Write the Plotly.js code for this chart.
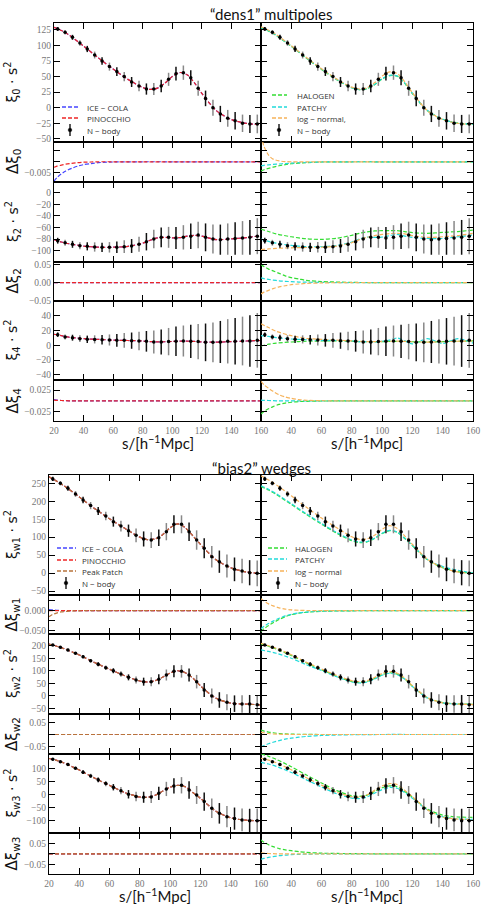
<!DOCTYPE html>
<html><head><meta charset="utf-8">
<script src="https://cdn.plot.ly/plotly-3.0.1.min.js"></script>
<style>html,body{margin:0;padding:0;background:#fff}</style>
</head><body><div id="chart" style="width:481px;height:904px"></div>
<script>
// ---------------- DATA ----------------
const s_nbody = [22.5,27.5,32.5,37.5,42.5,47.5,52.5,57.5,62.5,67.5,72.5,77.5,82.5,87.5,92.5,97.5,102.5,107.5,112.5,117.5,122.5,127.5,132.5,137.5,142.5,147.5,152.5,157.5];
const s_model = [20,25,30,40,50,60,70,80,85,90,95,100,105,110,115,120,130,140,150,160];
const s_delta = [20,22,25,28,32,36,40,45,50,60,80,100,130,160];
const x_ticks = [20,40,60,80,100,120,140,160];

// "dens1" multipoles
const xi0_nbody = [126.4,121,113,104,94.3,84.6,75,66,58,50,41.3,35,30,30,35,45.6,54.6,56.3,48,31.2,15,0,-10,-17,-21,-25,-26,-26];
const xi0_err   = [3,3.5,4,4.5,5,5.5,6,6.5,7,7.5,8,8.5,9,9.5,10,10.5,11,11.5,12,12,12.5,13,13,13.5,14,14,14.5,15];
const xi2_nbody = [-82.8,-86.3,-89,-91.4,-92.5,-93.6,-94.2,-94.2,-94,-93,-91.9,-89,-84.5,-79.9,-77,-77,-78.2,-77,-75,-73,-77,-80,-81,-80,-79,-78,-77,-75];
const xi2_err   = [5,5,6,6,7,8,8,9,10,11,12,13,15,16,17,18,19,21,22,23,24,25,26,27,28,29,30,31];
const xi4_nbody = [14.4,11.2,10.3,9,8.1,8,7.6,7.2,6.7,6.7,6.3,5.8,5.4,4.5,4.5,5,5.4,5.8,5.4,5,4,4,4.5,5.4,5.4,5.8,5.8,6.7];
const xi4_err   = [3,3.5,4,4.5,5,5.5,6.5,7.5,8.5,10,11,12.5,14,15.5,17,18.5,20,21,22.5,24,25.5,27,28.5,30,31.5,33,35,37];

const xi0_icecola   = [129,124,117,99,80,62,45.5,32.5,29.5,31.5,39.5,50,56.5,53,40,23,-5,-19,-25,-27];
const xi0_pinocchio = [129,124,117,99,80,62,45.5,32.5,29.5,31.5,39.5,50,56.5,53,40,23,-5,-19,-25,-27];
const xi0_halogen   = [128,123,116,98.5,79.5,61.5,45,32,29,30.5,37,46,51.5,50.5,39,22.5,-5,-18.5,-24.5,-26.5];
const xi0_patchy    = [128.5,123.5,116.5,99,80,62,45.5,32,29,31,37.5,46.5,52,51,39.5,23,-4.5,-18.5,-25,-26.5];
const xi0_lognormal = [130,124.5,117.5,99.5,80.5,62.5,46,33,30,32,40,51,57.5,55,41.5,24,-5,-19,-25,-27];

const xi2_icecola   = [-81,-85,-88,-92,-94,-94,-92.5,-87,-82,-78,-77,-78,-77.5,-75,-73.5,-75,-81,-79.5,-77.5,-74];
const xi2_pinocchio = [-81,-85,-88,-92,-94,-94,-92.5,-87,-82,-78,-77,-78,-77.5,-75,-73.5,-75,-81,-79.5,-77.5,-74];
const xi2_halogen   = [-63,-67,-71,-76,-79.5,-80.5,-78.5,-73.5,-70,-67.5,-66,-65.5,-65.5,-65.5,-67,-69,-70,-68.5,-67,-64.5];
const xi2_patchy    = [-80,-84,-87,-91,-93,-93,-91,-85,-80,-76.5,-77,-76.5,-74,-72,-75,-77,-79,-79,-76,-73];
const xi2_lognormal = [-98,-97,-96,-95,-94.5,-94,-92,-86,-81,-77,-74,-72,-70.5,-70,-71,-74,-77,-76,-74,-70];

const xi4_icecola   = [15,13,11,9,8,7,6.5,5.8,5,4.7,4.8,5.2,5.6,5.6,5.2,4.5,4.2,5,5.8,6.5];
const xi4_pinocchio = [15,13,11,9,8,7,6.5,5.8,5,4.7,4.8,5.2,5.6,5.6,5.2,4.5,4.2,5,5.8,6.5];
const xi4_halogen   = [-1,1.5,3,4.5,5.5,5.8,5.8,5.5,5,4.8,4.8,5,5.3,5.4,5.2,4.8,4.5,5,5.5,6];
const xi4_patchy    = [13,12,10.5,8.5,7.5,6.8,6.5,6,5,5,4.5,5.5,7,10,6,2,9,2.5,9,3];
const xi4_lognormal = [29,24,19,13,9.5,8,7,6,5.5,5,5,5.2,5.5,5.6,5.3,4.8,4.3,4.8,5.5,6];

const d0_icecola   = [-0.0088,-0.0072,-0.0055,-0.0042,-0.003,-0.002,-0.0013,-0.0008,-0.0004,-0.0001,0,0,0,0];
const d0_pinocchio = [-0.0025,-0.002,-0.0015,-0.0011,-0.0007,-0.0004,-0.0002,-0.0001,0,0,0,0,0,0];
const d0_halogen   = [-0.0042,-0.0036,-0.003,-0.0024,-0.0018,-0.0013,-0.0009,-0.0006,-0.0004,-0.0001,0,0,0,0];
const d0_patchy    = [-0.0018,-0.0016,-0.0014,-0.0012,-0.001,-0.0008,-0.0006,-0.0004,-0.0003,-0.0001,0,0,0,0];
const d0_lognormal = [0.012,0.007,0.003,0.0012,0.0004,0.0001,0,0,0,0,0,0,0,0];

const d2_icecola   = [0,0,0,0,0,0,0,0,0,0,0,0,0,0];
const d2_pinocchio = [0,0,0,0,0,0,0,0,0,0,0,0,0,0];
const d2_halogen   = [0.05,0.045,0.038,0.033,0.026,0.019,0.014,0.01,0.006,0.003,0.0005,0,0,0];
const d2_patchy    = [0.013,0.011,0.009,0.007,0.005,0.0035,0.0025,0.0015,0.001,0.0003,0,0,0,0];
const d2_lognormal = [-0.032,-0.027,-0.022,-0.017,-0.012,-0.009,-0.006,-0.004,-0.0025,-0.001,0,0,0,0];

const d4_icecola   = [0.003,0.002,0.001,0.0005,0.0002,0,0,0,0,0,0,0,0,0];
const d4_pinocchio = [0.002,0.0015,0.001,0.0005,0.0002,0,0,0,0,0,0,0,0,0];
const d4_halogen   = [-0.03,-0.024,-0.018,-0.013,-0.008,-0.005,-0.003,-0.0015,-0.0008,-0.0002,0,0,0,0];
const d4_patchy    = [0.002,0.0015,0.001,0.0005,0.0002,0,0,0,0,0,0,0,0,0];
const d4_lognormal = [0.045,0.037,0.029,0.022,0.014,0.009,0.006,0.003,0.0015,0.0005,0,0,0,0];

// "bias2" wedges
const w1_nbody = [262,250,236,220.3,203.6,187.8,173,159,143.2,131,118,105,95,92,98.6,115.3,135.8,135.8,115,92,69,45.7,31.7,19.7,10.4,5.7,1,-0.8];
const w1_err   = [6,6,7,8,9,10,11,12,14,15,17,19,21,22,23,24,25,25,26,27,28,30,31,32,33,34,35,36];
const w2_nbody = [202.7,193.4,182.7,169.4,156,140,125.5,112,100,87,73.7,63,56.4,56.4,65.7,83,97.6,97.6,83,56.4,23,-0.8,-16.8,-26,-31.4,-32.7,-32.7,-35.4];
const w2_err   = [4,4,5,5,6,7,8,9,10,11,12,14,16,18,20,22,24,25,26,27,28,30,31,32,33,35,36,38];
const w3_nbody = [134,125,114,100,85,71,56,42,28,15,1.3,-7.6,-10,-8.9,5,21.5,33,35.4,17.7,-1.3,-26.6,-52,-71,-83.5,-91,-96,-98.7,-98.7];
const w3_err   = [4,4,5,6,7,8,9,10,12,14,16,18,21,23,25,27,29,31,33,34,35,37,39,40,42,43,45,46];

const w1_icecola   = [268,256,243,212,180,151,124.5,100,93,95,107,126,137,126,103.5,80,38,15,3.3,-1.5];
const w1_pinocchio = [268,256,243,212,180,151,124.5,100,93,95,107,126,137,126,103.5,80,38,15,3.3,-1.5];
const w1_peakpatch = [268,256,243,212,180,151,124.5,100,93,95,107,126,137,126,103.5,80,38,15,3.3,-1.5];
const w1_halogen   = [241,231,219,191,163,136,111,90,85,87,96,110,118,113,96,76,37,15,4,0];
const w1_patchy    = [243,233,221,193,165,138,113,92,86.5,88,97,111,119,114,97,77,38,18,8,0];
const w1_lognormal = [271,259,246,215,183,153,126,101,94,95,105,122,132,124,103,80,38,15,3,-1];

const w2_icecola   = [206,198,188,163,133,106,80,59,55,60,74,91,100,92,71,40,-9,-29,-33,-36];
const w2_pinocchio = [206,198,188,163,133,106,80,59,55,60,74,91,100,92,71,40,-9,-29,-33,-36];
const w2_peakpatch = [206,198,188,163,133,106,80,59,55,60,74,91,100,92,71,40,-9,-29,-33,-36];
const w2_halogen   = [207,198,187,161,131,104,78,57,53,57,69,84,92,86,67,38,-8,-27,-32,-34];
const w2_patchy    = [183,177,170,150,124,101,76,55,51,55,67,82,90,84,66,37,-9,-28,-33,-35];
const w2_lognormal = [209,200,190,164,134,107,81,60,56,60,73,89,97,90,70,40,-8,-28,-33,-35];

const w3_icecola   = [137,130,120,93,63,35,8,-9,-10,-3,13,28,35,30,8,-14,-62,-88,-97,-99];
const w3_pinocchio = [137,130,120,93,63,35,8,-9,-10,-3,13,28,35,30,8,-14,-62,-88,-97,-99];
const w3_peakpatch = [137,130,120,93,63,35,8,-9,-10,-3,13,28,35,30,8,-14,-62,-88,-97,-99];
const w3_halogen   = [155,145,134,106,74,44,15,-4,-7,-2,12,26,33,30,12,-10,-55,-78,-85,-86];
const w3_patchy    = [122,116,107,84,56,29,3,-13,-15,-9,5,19,27,24,7,-14,-58,-84,-92,-94];
const w3_lognormal = [138,131,121,94,64,36,9,-8,-9,-1,16,33,42,38,16,-8,-58,-85,-93,-95];

const dw1_icecola   = [0.003,0.002,0.001,0.0005,0,0,0,0,0,0,0,0,0,0];
const dw1_pinocchio = [0,0,0,0,0,0,0,0,0,0,0,0,0,0];
const dw1_peakpatch = [-0.015,-0.01,-0.006,-0.003,-0.0015,-0.0007,-0.0003,0,0,0,0,0,0,0];
const dw1_halogen   = [-0.052,-0.045,-0.037,-0.03,-0.022,-0.015,-0.01,-0.006,-0.004,-0.0015,-0.0003,0,0,0];
const dw1_patchy    = [-0.045,-0.039,-0.032,-0.026,-0.019,-0.013,-0.009,-0.0055,-0.0035,-0.0013,-0.0003,0,0,0];
const dw1_lognormal = [0.03,0.024,0.017,0.012,0.007,0.004,0.002,0.001,0.0005,0,0,0,0,0];

const dw2_icecola   = [0,0,0,0,0,0,0,0,0,0,0,0,0,0];
const dw2_pinocchio = [0,0,0,0,0,0,0,0,0,0,0,0,0,0];
const dw2_peakpatch = [0,0,0,0,0,0,0,0,0,0,0,0,0,0];
const dw2_halogen   = [0.018,0.014,0.01,0.007,0.004,0.0025,0.0015,0.0008,0.0004,0,0,0,0,0];
const dw2_patchy    = [-0.05,-0.045,-0.038,-0.032,-0.025,-0.019,-0.015,-0.011,-0.008,-0.004,-0.001,0,0,0];
const dw2_lognormal = [0.01,0.007,0.004,0.002,0.001,0.0005,0,0,0,0,0,0,0,0];

const dw3_icecola   = [0,0,0,0,0,0,0,0,0,0,0,0,0,0];
const dw3_pinocchio = [0,0,0,0,0,0,0,0,0,0,0,0,0,0];
const dw3_peakpatch = [0,0,0,0,0,0,0,0,0,0,0,0,0,0];
const dw3_halogen   = [0.066,0.055,0.043,0.034,0.025,0.019,0.015,0.01,0.007,0.003,0.001,0,0,0];
const dw3_patchy    = [-0.026,-0.022,-0.017,-0.013,-0.009,-0.006,-0.004,-0.0025,-0.0015,-0.0005,0,0,0,0];
const dw3_lognormal = [0.005,0.003,0.0015,0.0005,0,0,0,0,0,0,0,0,0,0];

// tick values / labels
const xi0_ticks = [-50,-25,0,25,50,75,100,125];
const xi2_ticks = [-100,-80,-60,-40,-20,0];
const xi4_ticks = [-40,-20,0,20,40];
const w1_ticks = [-50,0,50,100,150,200,250];
const w2_ticks = [-50,0,50,100,150,200];
const w3_ticks = [-100,-50,0,50,100];
const d0_ticks = [-0.005,0,0.005];       const d0_text = ['\u22120.005','',''];
const d2_ticks = [-0.05,0,0.05];         const d2_text = ['\u22120.05','0.00','0.05'];
const d4_ticks = [-0.025,0.025];         const d4_text = ['\u22120.025','0.025'];
const dw1_ticks = [-0.05,-0.025,0,0.025]; const dw1_text = ['\u22120.050','','0.000',''];
const dw2_ticks = [-0.05,0,0.05];        const dw2_text = ['\u22120.05','','0.05'];
const dw3_ticks = [-0.05,0,0.05];        const dw3_text = ['\u22120.05','','0.05'];

// ---------------- STYLE ----------------
const COL = {ice:'#4646ff', pino:'#ee2626', peak:'#b8743c', halo:'#33dd33', patchy:'#22dada', logn:'#f6b25a'};
const DASH = '4px,2px';
const W = 481, H = 904;

const blocks = [
 {rows:[[23,142],[142,182],[182,262],[262,301],[301,380],[380,421]], cols:[[54,261],[261,473]],
  panels:[
   {range:[-55,136], tv:xi0_ticks, left:[[s_model,xi0_icecola,'ice'],[s_model,xi0_pinocchio,'pino']], right:[[s_model,xi0_halogen,'halo'],[s_model,xi0_patchy,'patchy'],[s_model,xi0_lognormal,'logn']], nb:[xi0_nbody,xi0_err]},
   {range:[-0.0092,0.009], tv:d0_ticks, tt:d0_text, left:[[s_delta,d0_icecola,'ice'],[s_delta,d0_pinocchio,'pino']], right:[[s_delta,d0_halogen,'halo'],[s_delta,d0_patchy,'patchy'],[s_delta,d0_lognormal,'logn']]},
   {range:[-119.5,18.4], tv:xi2_ticks, left:[[s_model,xi2_icecola,'ice'],[s_model,xi2_pinocchio,'pino']], right:[[s_model,xi2_halogen,'halo'],[s_model,xi2_patchy,'patchy'],[s_model,xi2_lognormal,'logn']], nb:[xi2_nbody,xi2_err]},
   {range:[-0.052,0.058], tv:d2_ticks, tt:d2_text, left:[[s_delta,d2_icecola,'ice'],[s_delta,d2_pinocchio,'pino']], right:[[s_delta,d2_halogen,'halo'],[s_delta,d2_patchy,'patchy'],[s_delta,d2_lognormal,'logn']]},
   {range:[-47,60], tv:xi4_ticks, left:[[s_model,xi4_icecola,'ice'],[s_model,xi4_pinocchio,'pino']], right:[[s_model,xi4_halogen,'halo'],[s_model,xi4_patchy,'patchy'],[s_model,xi4_lognormal,'logn']], nb:[xi4_nbody,xi4_err]},
   {range:[-0.046,0.048], tv:d4_ticks, tt:d4_text, left:[[s_delta,d4_icecola,'ice'],[s_delta,d4_pinocchio,'pino']], right:[[s_delta,d4_halogen,'halo'],[s_delta,d4_patchy,'patchy'],[s_delta,d4_lognormal,'logn']]}
  ],
  ylabels:['\u03be<sub>0</sub> \u00b7 s<sup>2</sup>','\u0394\u03be<sub>0</sub>','\u03be<sub>2</sub> \u00b7 s<sup>2</sup>','\u0394\u03be<sub>2</sub>','\u03be<sub>4</sub> \u00b7 s<sup>2</sup>','\u0394\u03be<sub>4</sub>'],
  ylabx:13, title:'\u201cdens1\u201d multipoles', titlex:271, titley:14, xtitley:443
 },
 {rows:[[475,595],[595,634],[634,714],[714,754],[754,833],[833,874]], cols:[[49,261],[261,473]],
  panels:[
   {range:[-61,273], tv:w1_ticks, left:[[s_model,w1_icecola,'ice'],[s_model,w1_pinocchio,'pino'],[s_model,w1_peakpatch,'peak']], right:[[s_model,w1_halogen,'halo'],[s_model,w1_patchy,'patchy'],[s_model,w1_lognormal,'logn']], nb:[w1_nbody,w1_err]},
   {range:[-0.058,0.039], tv:dw1_ticks, tt:dw1_text, left:[[s_delta,dw1_icecola,'ice'],[s_delta,dw1_pinocchio,'pino'],[s_delta,dw1_peakpatch,'peak']], right:[[s_delta,dw1_halogen,'halo'],[s_delta,dw1_patchy,'patchy'],[s_delta,dw1_lognormal,'logn']]},
   {range:[-72.7,246.7], tv:w2_ticks, left:[[s_model,w2_icecola,'ice'],[s_model,w2_pinocchio,'pino'],[s_model,w2_peakpatch,'peak']], right:[[s_model,w2_halogen,'halo'],[s_model,w2_patchy,'patchy'],[s_model,w2_lognormal,'logn']], nb:[w2_nbody,w2_err]},
   {range:[-0.08,0.084], tv:dw2_ticks, tt:dw2_text, left:[[s_delta,dw2_icecola,'ice'],[s_delta,dw2_pinocchio,'pino'],[s_delta,dw2_peakpatch,'peak']], right:[[s_delta,dw2_halogen,'halo'],[s_delta,dw2_patchy,'patchy'],[s_delta,dw2_lognormal,'logn']]},
   {range:[-145.6,154], tv:w3_ticks, left:[[s_model,w3_icecola,'ice'],[s_model,w3_pinocchio,'pino'],[s_model,w3_peakpatch,'peak']], right:[[s_model,w3_halogen,'halo'],[s_model,w3_patchy,'patchy'],[s_model,w3_lognormal,'logn']], nb:[w3_nbody,w3_err]},
   {range:[-0.096,0.099], tv:dw3_ticks, tt:dw3_text, left:[[s_delta,dw3_icecola,'ice'],[s_delta,dw3_pinocchio,'pino'],[s_delta,dw3_peakpatch,'peak']], right:[[s_delta,dw3_halogen,'halo'],[s_delta,dw3_patchy,'patchy'],[s_delta,dw3_lognormal,'logn']]}
  ],
  ylabels:['\u03be<sub>w1</sub> \u00b7 s<sup>2</sup>','\u0394\u03be<sub>w1</sub>','\u03be<sub>w2</sub> \u00b7 s<sup>2</sup>','\u0394\u03be<sub>w2</sub>','\u03be<sub>w3</sub> \u00b7 s<sup>2</sup>','\u0394\u03be<sub>w3</sub>'],
  ylabx:12, title:'\u201cbias2\u201d wedges', titlex:261, titley:468, xtitley:895
 }
];

const legends = [
 {x0:62, x1:78, tx:85, mx:70, rows:[107,118,130], items:[['ICE \u2212 COLA','ice'],['PINOCCHIO','pino'],['N \u2212 body','nb']]},
 {x0:272, x1:287, tx:295, mx:279, rows:[95,107,118,130], items:[['HALOGEN','halo'],['PATCHY','patchy'],['log \u2212 normal,','logn'],['N \u2212 body','nb']]},
 {x0:57, x1:76, tx:80, mx:66, rows:[548,560,571,583], items:[['ICE \u2212 COLA','ice'],['PINOCCHIO','pino'],['Peak Patch','peak'],['N \u2212 body','nb']]},
 {x0:268, x1:287, tx:293, mx:278, rows:[548,559,571,583], items:[['HALOGEN','halo'],['PATCHY','patchy'],['log \u2212 normal','logn'],['N \u2212 body','nb']]}
];

// ---------------- BUILD ----------------
const px = x => x / W, py = y => 1 - y / H;
const axCommon = {showline:true, linecolor:'#000', linewidth:1.2, mirror:'ticks', ticks:'inside', ticklen:6, tickwidth:1, tickcolor:'#000',
  showgrid:false, zeroline:false, fixedrange:true, tickfont:{family:'Liberation Serif, serif', size:9.5, color:'#777'}};

const traces = [];
const layout = {width:W, height:H, margin:{l:0,r:0,t:0,b:0}, paper_bgcolor:'#fff', plot_bgcolor:'rgba(0,0,0,0)', showlegend:false, shapes:[], annotations:[]};

let n = 0;
blocks.forEach(b => {
  b.panels.forEach((p, ri) => {
    [0,1].forEach(ci => {
      n++;
      const id = n === 1 ? '' : String(n);
      const xa = Object.assign({}, axCommon, {domain:[px(b.cols[ci][0]), px(b.cols[ci][1])], range:[20,160], anchor:'y'+id,
        tickvals:x_ticks, ticktext:x_ticks.map((v,i)=> (ci===1 && i===0) ? '' : String(v)), showticklabels: ri === 5});
      const ya = Object.assign({}, axCommon, {domain:[py(b.rows[ri][1]), py(b.rows[ri][0])], range:p.range, anchor:'x'+id,
        tickvals:p.tv, showticklabels: ci === 0});
      if (p.tt) ya.ticktext = p.tt;
      layout['xaxis'+id] = xa; layout['yaxis'+id] = ya;
      const series = ci === 0 ? p.left : p.right;
      series.forEach(([xs, ys, c]) => traces.push({type:'scatter', mode:'lines', x:xs, y:ys, xaxis:'x'+id, yaxis:'y'+id,
        line:{color:COL[c], width:1.2, dash:DASH, shape:'spline', smoothing:0.8}, hoverinfo:'skip'}));
      if (p.nb) {
        [0,1].forEach(par => {
          const idx = s_nbody.map((_, i) => i).filter(i => i % 2 === par);
          traces.push({type:'scatter', mode:'markers', x:idx.map(i=>s_nbody[i]), y:idx.map(i=>p.nb[0][i]), xaxis:'x'+id, yaxis:'y'+id,
            marker:{color:'#000', size:3.5},
            error_y:{type:'data', array:idx.map(i=>p.nb[1][i]), visible:true, color: par === 0 ? '#111' : '#888', thickness:1.5, width:0},
            hoverinfo:'skip'});
        });
      }
    });
    layout.annotations.push({xref:'paper', yref:'paper', x:px(b.ylabx), y:py((b.rows[ri][0]+b.rows[ri][1])/2), text:b.ylabels[ri],
      textangle:-90, showarrow:false, xanchor:'center', yanchor:'middle', font:{family:'DejaVu Sans', size: (ri%2===0)?14:15, color:'#111'}});
  });
  layout.annotations.push({xref:'paper', yref:'paper', x:px(b.titlex), y:py(b.titley), text:b.title, showarrow:false,
    xanchor:'center', yanchor:'middle', font:{family:'Lato', size:15, color:'#111'}});
  b.cols.forEach(c => layout.annotations.push({xref:'paper', yref:'paper', x:px((c[0]+c[1])/2), y:py(b.xtitley),
    text:'s/[h<sup>\u22121</sup>Mpc]', showarrow:false, xanchor:'center', yanchor:'middle', font:{family:'Lato', size:15, color:'#111'}}));
});

legends.forEach(L => {
  L.items.forEach(([label, key], k) => {
    const y = L.rows[k];
    if (key === 'nb') {
      layout.shapes.push({type:'line', xref:'paper', yref:'paper', x0:px(L.mx), x1:px(L.mx), y0:py(y-6), y1:py(y+6), line:{color:'#000', width:1.3}});
      layout.shapes.push({type:'circle', xref:'paper', yref:'paper', x0:px(L.mx-1.8), x1:px(L.mx+1.8), y0:py(y+1.8), y1:py(y-1.8), fillcolor:'#000', line:{color:'#000', width:0.5}});
    } else {
      layout.shapes.push({type:'line', xref:'paper', yref:'paper', x0:px(L.x0), x1:px(L.x1), y0:py(y), y1:py(y), line:{color:COL[key], width:1.3, dash:DASH}});
    }
    layout.annotations.push({xref:'paper', yref:'paper', x:px(L.tx), y:py(y), text:label, showarrow:false, xanchor:'left', yanchor:'middle',
      font:{family:'Open Sans', size:8, color:'#333'}});
  });
});

Plotly.newPlot('chart', traces, layout, {staticPlot:true, displayModeBar:false});
</script>
</body></html>
